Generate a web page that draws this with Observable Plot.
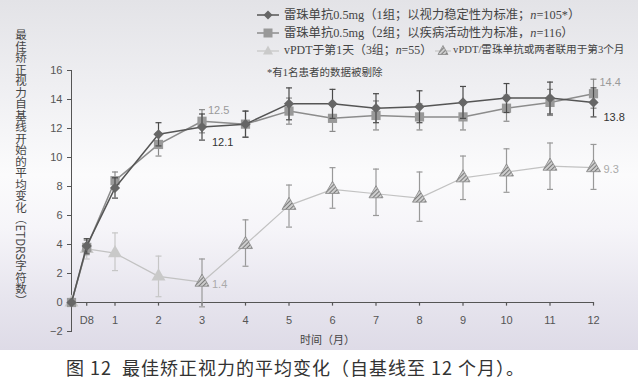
<!DOCTYPE html>
<html><head><meta charset="utf-8">
<script src="https://cdn.jsdelivr.net/npm/d3@7"></script>
<script src="https://cdn.jsdelivr.net/npm/@observablehq/plot@0.6"></script>
<style>
body{margin:0;background:#fff;width:638px;height:386px;overflow:hidden;position:relative;font-family:"Liberation Serif","Noto Sans CJK SC",serif;}
#chart{position:absolute;left:0;top:0;width:638px;height:350px;
 background:linear-gradient(to bottom,#e3e3e7 0%,#efeff2 25%,#fbfbfc 50%,#f6f5f9 65%,#e7e5ee 85%,#dedbe7 100%);}
#chart svg.plot{position:absolute;left:0;top:0;}
.leg{position:absolute;left:256px;height:16px;line-height:16px;font-size:12.3px;color:#444;white-space:nowrap;display:flex;align-items:center;}
.leg svg{margin-right:4px;}
#note{position:absolute;left:267px;top:64px;font-size:10.5px;color:#444;white-space:nowrap;}
#ylab{position:absolute;left:14px;top:29px;writing-mode:vertical-rl;font-size:11.5px;line-height:14px;color:#444;font-family:"Noto Sans CJK SC",sans-serif;}
#caption{position:absolute;left:66px;top:354px;font-size:18px;letter-spacing:1px;color:#333;white-space:nowrap;font-family:"Noto Sans CJK SC",sans-serif;}
</style></head>
<body>
<svg width="0" height="0" style="position:absolute">
 <defs>
  <pattern id="hatch" patternUnits="userSpaceOnUse" width="3" height="3" patternTransform="rotate(45)">
   <rect width="3" height="3" fill="#cfcfcf"/>
   <line x1="0.5" y1="0" x2="0.5" y2="3" stroke="#7a7a7a" stroke-width="1.1"/>
  </pattern>
 </defs>
</svg>
<div id="chart"></div>
<div id="ylab">最佳矫正视力自基线开始的平均变化（ETDRS字符数）</div>
<div class="leg" style="top:7px"><svg width="24" height="12"><line x1="1" y1="6" x2="23" y2="6" stroke="#555" stroke-width="1.5"/><path d="M12,1.5L16.5,6L12,10.5L7.5,6Z" fill="#666"/></svg>雷珠单抗0.5mg（1组；以视力稳定性为标准；<i>n</i>=105*）</div>
<div class="leg" style="top:25px"><svg width="24" height="12"><line x1="1" y1="6" x2="23" y2="6" stroke="#8c8c8c" stroke-width="1.5"/><rect x="7.5" y="1.5" width="9" height="9" fill="#999"/></svg>雷珠单抗0.5mg（2组；以疾病活动性为标准，<i>n</i>=116）</div>
<div class="leg" style="top:42px;font-size:11.9px"><svg width="24" height="12"><line x1="1" y1="7" x2="23" y2="7" stroke="#c4c4c4" stroke-width="1.2"/><path d="M12,1.5L17,10.5L7,10.5Z" fill="#cacaca"/></svg><span>vPDT于第1天（3组；<i>n</i>=55）</span><svg width="18" height="12" style="margin-left:2px;margin-right:1px"><line x1="1" y1="7" x2="17" y2="7" stroke="#c4c4c4" stroke-width="1.2"/><path d="M9,1.5L14,10.5L4,10.5Z" fill="url(#hatch)" stroke="#888" stroke-width="0.8"/></svg><span style="font-size:10.6px">vPDT/雷珠单抗或两者联用于第3个月</span></div>
<div id="note">*有1名患者的数据被剔除</div>
<div id="caption">图 12&nbsp;&nbsp;最佳矫正视力的平均变化（自基线至 12 个月）。</div>
<script>
// ---- data ----
const months = [0, 0.35, 1, 2, 3, 4, 5, 6, 7, 8, 9, 10, 11, 12];
const tickMonths = [0.35, 1, 2, 3, 4, 5, 6, 7, 8, 9, 10, 11, 12];
const tickLabels = ["D8", "1", "2", "3", "4", "5", "6", "7", "8", "9", "10", "11", "12"];
const yTicks = [-2, 0, 2, 4, 6, 8, 10, 12, 14, 16];
const group1 = [0, 3.9, 7.9, 11.6, 12.1, 12.3, 13.7, 13.7, 13.4, 13.5, 13.8, 14.1, 14.1, 13.8];
const group1Err = [0, 0.5, 0.7, 0.8, 0.9, 0.9, 1.1, 1.0, 1.0, 1.1, 1.1, 1.0, 1.1, 1.0];
const group2 = [0, 3.8, 8.4, 10.9, 12.5, 12.3, 13.2, 12.7, 12.9, 12.8, 12.8, 13.4, 13.8, 14.4];
const group2Err = [0, 0.5, 0.6, 0.8, 0.8, 0.9, 0.9, 0.9, 1.0, 0.9, 0.9, 0.9, 0.9, 1.0];
const group3 = [0, 3.7, 3.4, 1.8, 1.4, 4.0, 6.7, 7.8, 7.5, 7.2, 8.6, 9.0, 9.4, 9.3];
const group3Lo = [0, 3.0, 2.2, 0.4, -0.3, 2.5, 5.2, 6.5, 6.0, 5.6, 7.1, 7.6, 7.8, 7.8];
const group3Hi = [0, 4.4, 4.8, 3.2, 3.0, 5.7, 8.1, 9.3, 9.2, 9.0, 10.1, 10.6, 11.0, 10.9];
const switchMonth = 3; // from month 3 on: vPDT/ranibizumab or both
const valueLabels = [
  {month: 3, value: 12.5, text: "12.5", series: "g2"},
  {month: 3, value: 12.1, text: "12.1", series: "g1"},
  {month: 12, value: 14.4, text: "14.4", series: "g2"},
  {month: 12, value: 13.8, text: "13.8", series: "g1"},
  {month: 12, value: 9.3, text: "9.3", series: "g3"},
  {month: 3, value: 1.4, text: "1.4", series: "g3"}
];

// ---- tables ----
const g1 = months.map((m, i) => ({m, v: group1[i], lo: group1[i] - group1Err[i], hi: group1[i] + group1Err[i]}));
const g2 = months.map((m, i) => ({m, v: group2[i], lo: group2[i] - group2Err[i], hi: group2[i] + group2Err[i]}));
const g3 = months.map((m, i) => ({m, v: group3[i], lo: group3Lo[i], hi: group3Hi[i], late: m >= switchMonth}));
const withErr = d => d.hi > d.lo;
const ticksData = tickMonths.map((m, i) => ({m, label: tickLabels[i]}));

const cap = {draw(ctx) { ctx.moveTo(-3, 0); ctx.lineTo(3, 0); }};
const errMarks = (data, stroke) => [
  Plot.ruleX(data.filter(withErr), {x: "m", y1: "lo", y2: "hi", stroke, strokeWidth: 1.2}),
  Plot.dot(data.filter(withErr), {x: "m", y: "hi", symbol: cap, fill: "none", stroke, strokeWidth: 1.2}),
  Plot.dot(data.filter(withErr), {x: "m", y: "lo", symbol: cap, fill: "none", stroke, strokeWidth: 1.2})
];
const labelStyle = {
  g1: {fill: "#333", dx: 10, dy: 15},
  g2: {fill: "#9a9a9a", dx: 6, dy: -11},
  g3: {fill: "#aaa", dx: 10, dy: 2}
};

const chart = Plot.plot({
  width: 638, height: 350,
  marginLeft: 71, marginRight: 45, marginTop: 70, marginBottom: 19,
  style: {background: "transparent", fontFamily: "Liberation Sans, Arial, sans-serif", fontSize: "11px", color: "#555"},
  x: {domain: [0, 12], axis: null},
  y: {domain: [-2, 16], ticks: yTicks, tickSize: 4, tickPadding: 5, label: null, line: true},
  marks: [
    Plot.ruleY([0], {stroke: "#555", strokeWidth: 1.2}),
    Plot.ruleX(ticksData, {x: "m", y1: 0, y2: -0.25, stroke: "#555", strokeWidth: 1.2}),
    Plot.text(ticksData, {x: "m", y: 0, text: "label", dy: 18, fill: "#555", fontSize: 11}),
    Plot.text(["时间（月）"], {frameAnchor: "bottom", dx: -5, dy: 12, fill: "#444", fontSize: 11, fontFamily: "Noto Sans CJK SC"}),
    // group 3 (vPDT)
    ...errMarks(g3.filter(d => !d.late), "#c6c6c6"),
    ...errMarks(g3.filter(d => d.late), "#999"),
    Plot.line(g3, {x: "m", y: "v", stroke: "#c2c2c2", strokeWidth: 1.2}),
    Plot.dot(g3.filter(d => !d.late), {x: "m", y: "v", symbol: "triangle", r: 5.2, fill: "#c9c9c9"}),
    Plot.dot(g3.filter(d => d.late), {x: "m", y: "v", symbol: "triangle", r: 5.2, fill: "url(#hatch)", stroke: "#888", strokeWidth: 0.8}),
    // group 2
    ...errMarks(g2, "#8a8a8a"),
    Plot.line(g2, {x: "m", y: "v", stroke: "#8c8c8c", strokeWidth: 1.5}),
    Plot.dot(g2, {x: "m", y: "v", symbol: "square", r: 5.2, fill: "#999"}),
    // group 1
    ...errMarks(g1, "#4a4a4a"),
    Plot.line(g1, {x: "m", y: "v", stroke: "#555", strokeWidth: 1.5}),
    Plot.dot(g1, {x: "m", y: "v", symbol: "diamond2", r: 4.6, fill: "#666"}),
    // value labels
    ...["g1", "g2", "g3"].map(s => Plot.text(valueLabels.filter(d => d.series === s), {
      x: "month", y: "value", text: "text", textAnchor: "start", fontSize: 11, ...labelStyle[s]
    }))
  ]
});
document.getElementById("chart").appendChild(chart);
</script>
</body></html>
